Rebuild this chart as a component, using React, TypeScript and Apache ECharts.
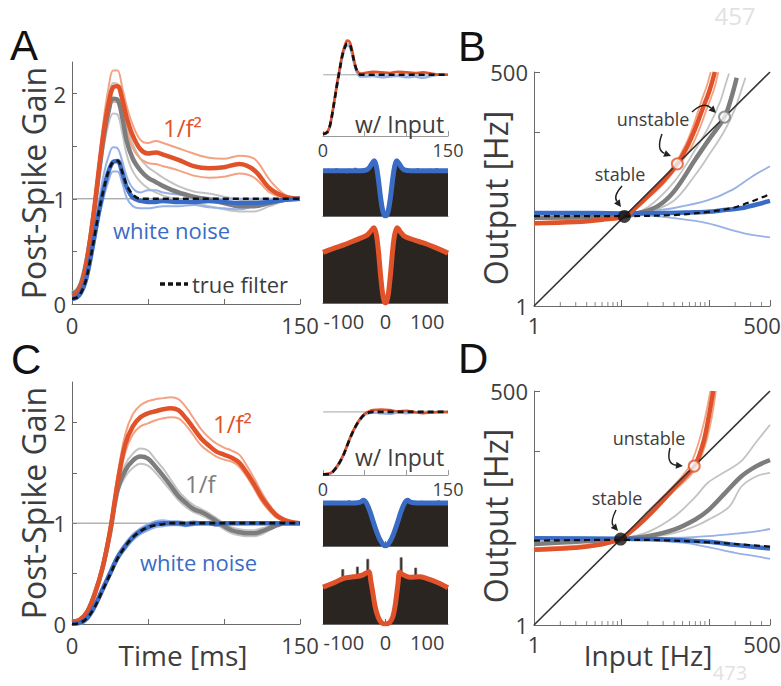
import React, { useEffect, useRef } from "react";
import * as echarts from "echarts";

const FONT = '"Open Sans", "DejaVu Sans", sans-serif';
const LETTER_FONT = '"Liberation Sans", Arial, sans-serif';
const TXT = "#3d3d3d";
const AXIS = "#6a6a6a";
const ORANGE = "#e0532a";
const ORANGE_L = "#f3a283";
const GRAY = "#7d7d7d";
const GRAY_L = "#c3c3c3";
const BLUE = "#3a6cc6";
const BLUE_L = "#98b1e6";
const BAR = "#2a2521";

// ---------- Panel A: post-spike gain, no input ----------
const timeA = [0, 3, 6, 9, 12, 15, 18, 21, 24, 27, 30, 33, 36, 40, 45, 50, 55, 60, 70, 80, 90, 100, 110, 120, 130, 140, 150];
const aOrange = [0.08, 0.1, 0.18, 0.35, 0.62, 0.95, 1.32, 1.65, 1.9, 2.06, 2.07, 1.95, 1.77, 1.6, 1.47, 1.43, 1.44, 1.42, 1.37, 1.31, 1.29, 1.3, 1.33, 1.27, 1.1, 1.02, 1.0];
const aOrangeHi = [0.1, 0.12, 0.2, 0.38, 0.66, 1.0, 1.4, 1.77, 2.05, 2.22, 2.22, 2.06, 1.88, 1.7, 1.56, 1.53, 1.55, 1.53, 1.48, 1.43, 1.39, 1.38, 1.41, 1.38, 1.18, 1.04, 1.0];
const aOrangeLo = [0.07, 0.09, 0.17, 0.33, 0.58, 0.9, 1.25, 1.55, 1.78, 1.92, 1.92, 1.82, 1.65, 1.48, 1.38, 1.34, 1.33, 1.31, 1.27, 1.22, 1.2, 1.21, 1.24, 1.2, 1.06, 1.01, 1.0];
const aGray = [0.1, 0.12, 0.2, 0.37, 0.62, 0.93, 1.28, 1.6, 1.83, 1.95, 1.94, 1.78, 1.55, 1.38, 1.27, 1.2, 1.16, 1.12, 1.06, 1.02, 0.99, 0.96, 0.93, 0.93, 0.96, 0.99, 1.0];
const aGrayHi = [0.12, 0.14, 0.22, 0.4, 0.66, 0.98, 1.35, 1.7, 1.95, 2.1, 2.09, 1.92, 1.7, 1.52, 1.38, 1.3, 1.25, 1.2, 1.12, 1.07, 1.05, 1.02, 0.99, 0.98, 0.99, 1.0, 1.0];
const aGrayLo = [0.08, 0.1, 0.18, 0.34, 0.58, 0.88, 1.2, 1.5, 1.71, 1.81, 1.8, 1.63, 1.42, 1.26, 1.16, 1.1, 1.06, 1.03, 0.99, 0.96, 0.93, 0.9, 0.88, 0.88, 0.93, 0.98, 1.0];
const aBlue = [0.05, 0.06, 0.11, 0.22, 0.42, 0.66, 0.9, 1.1, 1.26, 1.35, 1.36, 1.25, 1.11, 1.01, 0.98, 0.97, 0.97, 0.98, 0.97, 0.97, 0.98, 0.97, 0.96, 0.96, 0.97, 0.99, 1.0];
const aBlueHi = [0.06, 0.07, 0.13, 0.26, 0.48, 0.74, 1.0, 1.24, 1.4, 1.49, 1.48, 1.36, 1.21, 1.1, 1.06, 1.08, 1.08, 1.06, 1.04, 1.02, 1.01, 1.0, 1.0, 1.0, 1.0, 1.0, 1.0];
const aBlueLo = [0.04, 0.05, 0.1, 0.2, 0.38, 0.6, 0.83, 1.02, 1.17, 1.26, 1.26, 1.15, 1.01, 0.93, 0.91, 0.91, 0.92, 0.93, 0.93, 0.94, 0.92, 0.91, 0.9, 0.93, 0.96, 0.99, 1.0];
const aTrue = [0.05, 0.06, 0.11, 0.22, 0.42, 0.66, 0.9, 1.1, 1.26, 1.35, 1.36, 1.26, 1.13, 1.04, 1.0, 1.0, 1.0, 1.0, 1.0, 1.0, 1.0, 1.0, 1.0, 1.0, 1.0, 1.0, 1.0];

// ---------- Panel C ----------
const timeC = [0, 5, 10, 15, 20, 25, 30, 35, 40, 45, 50, 55, 60, 65, 70, 75, 80, 85, 90, 95, 100, 105, 110, 115, 120, 125, 130, 135, 140, 145, 150];
const cOrange = [0.02, 0.04, 0.12, 0.3, 0.55, 0.92, 1.4, 1.78, 1.96, 2.05, 2.09, 2.11, 2.13, 2.14, 2.12, 2.04, 1.94, 1.84, 1.77, 1.71, 1.68, 1.65, 1.6, 1.5, 1.38, 1.25, 1.15, 1.07, 1.03, 1.01, 1.0];
const cOrangeHi = [0.03, 0.05, 0.14, 0.33, 0.6, 0.98, 1.48, 1.88, 2.08, 2.17, 2.21, 2.23, 2.24, 2.25, 2.23, 2.15, 2.04, 1.93, 1.85, 1.79, 1.75, 1.72, 1.68, 1.57, 1.44, 1.3, 1.18, 1.09, 1.04, 1.01, 1.0];
const cOrangeLo = [0.02, 0.03, 0.11, 0.28, 0.52, 0.87, 1.33, 1.7, 1.88, 1.96, 1.99, 2.02, 2.04, 2.05, 2.04, 1.97, 1.87, 1.77, 1.71, 1.66, 1.63, 1.61, 1.56, 1.46, 1.34, 1.21, 1.12, 1.05, 1.02, 1.0, 1.0];
const cGray = [0.02, 0.04, 0.12, 0.3, 0.55, 0.9, 1.33, 1.52, 1.62, 1.66, 1.64, 1.56, 1.47, 1.37, 1.27, 1.2, 1.14, 1.11, 1.07, 1.02, 0.97, 0.93, 0.91, 0.9, 0.9, 0.92, 0.95, 0.98, 1.0, 1.0, 1.0];
const cGrayHi = [0.02, 0.04, 0.12, 0.3, 0.56, 0.92, 1.36, 1.58, 1.69, 1.74, 1.72, 1.63, 1.54, 1.43, 1.32, 1.24, 1.18, 1.14, 1.1, 1.05, 1.0, 0.96, 0.94, 0.93, 0.93, 0.95, 0.97, 0.99, 1.0, 1.0, 1.0];
const cGrayLo = [0.02, 0.04, 0.12, 0.29, 0.54, 0.88, 1.29, 1.46, 1.55, 1.59, 1.57, 1.5, 1.41, 1.32, 1.23, 1.16, 1.11, 1.08, 1.04, 0.99, 0.94, 0.9, 0.88, 0.87, 0.87, 0.89, 0.93, 0.97, 1.0, 1.0, 1.0];
const cBlue = [0.0, 0.01, 0.06, 0.18, 0.34, 0.5, 0.66, 0.77, 0.86, 0.92, 0.96, 0.99, 1.0, 1.0, 1.0, 0.99, 1.0, 1.0, 1.0, 0.99, 1.0, 1.0, 1.0, 1.0, 1.0, 1.0, 1.0, 1.0, 1.0, 1.0, 1.0];
const cBlueHi = [0.01, 0.02, 0.08, 0.2, 0.37, 0.53, 0.69, 0.8, 0.89, 0.95, 0.99, 1.02, 1.03, 1.02, 1.02, 1.01, 1.02, 1.01, 1.01, 1.01, 1.01, 1.01, 1.01, 1.0, 1.0, 1.0, 1.0, 1.0, 1.0, 1.0, 1.0];
const cBlueLo = [0.0, 0.0, 0.04, 0.15, 0.31, 0.47, 0.63, 0.74, 0.83, 0.89, 0.93, 0.96, 0.97, 0.98, 0.98, 0.97, 0.98, 0.99, 0.99, 0.98, 0.99, 0.99, 0.99, 0.99, 1.0, 1.0, 1.0, 1.0, 1.0, 1.0, 1.0];
const cTrue = [0.0, 0.01, 0.06, 0.17, 0.33, 0.49, 0.65, 0.77, 0.86, 0.92, 0.96, 0.98, 0.99, 1.0, 1.0, 1.0, 1.0, 1.0, 1.0, 1.0, 1.0, 1.0, 1.0, 1.0, 1.0, 1.0, 1.0, 1.0, 1.0, 1.0, 1.0];

// ---------- small "w/ Input" plots ----------
const timeS1 = [0, 5, 8, 11, 14, 17, 20, 23, 26, 29, 32, 35, 38, 41, 45, 50, 60, 70, 80, 90, 100, 110, 120, 130, 140, 150];
const s1True = [0.03, 0.06, 0.15, 0.35, 0.6, 0.85, 1.08, 1.3, 1.44, 1.51, 1.5, 1.36, 1.18, 1.06, 1.0, 1.0, 1.0, 1.0, 1.0, 1.0, 1.0, 1.0, 1.0, 1.0, 1.0, 1.0];
const s1Orange = [0.04, 0.07, 0.16, 0.37, 0.62, 0.88, 1.1, 1.33, 1.47, 1.56, 1.54, 1.4, 1.2, 1.07, 1.02, 1.03, 1.05, 1.04, 1.03, 1.05, 1.04, 1.03, 1.04, 1.02, 1.0, 1.0];
const s1Blue = [0.03, 0.05, 0.14, 0.33, 0.58, 0.83, 1.06, 1.28, 1.42, 1.48, 1.46, 1.33, 1.15, 1.03, 0.97, 0.97, 0.98, 0.96, 0.97, 0.98, 0.96, 0.97, 0.95, 0.98, 1.0, 1.0];
const s1Gray = [0.03, 0.06, 0.15, 0.35, 0.6, 0.86, 1.09, 1.31, 1.45, 1.53, 1.5, 1.35, 1.17, 1.04, 0.99, 0.98, 1.01, 1.02, 0.99, 1.0, 1.01, 1.0, 0.99, 1.0, 1.0, 1.0];

const timeS2 = [0, 5, 10, 15, 20, 25, 30, 35, 40, 45, 50, 55, 60, 70, 80, 90, 100, 110, 120, 130, 140, 150];
const s2True = [0.01, 0.01, 0.03, 0.1, 0.2, 0.33, 0.5, 0.66, 0.79, 0.89, 0.96, 0.99, 1.0, 1.0, 1.0, 1.0, 1.0, 1.0, 1.0, 1.0, 1.0, 1.0];
const s2Orange = [0.01, 0.02, 0.04, 0.11, 0.21, 0.34, 0.51, 0.67, 0.8, 0.9, 0.97, 1.01, 1.03, 1.04, 1.03, 1.01, 1.02, 1.0, 0.98, 0.99, 1.0, 1.0];
const s2Blue = [0.01, 0.01, 0.03, 0.09, 0.19, 0.32, 0.49, 0.65, 0.78, 0.88, 0.95, 0.98, 0.99, 0.98, 0.97, 0.99, 0.98, 0.99, 1.0, 0.99, 1.0, 1.0];
const s2Gray = [0.01, 0.01, 0.03, 0.1, 0.2, 0.33, 0.5, 0.66, 0.79, 0.89, 0.96, 0.99, 1.0, 0.99, 1.01, 1.0, 1.0, 0.99, 1.0, 1.0, 1.0, 1.0];

// ---------- autocorrelation histograms (bins, ms) ----------
const histBins = [-150, -147.5, -142.5, -137.5, -132.5, -127.5, -122.5, -117.5, -112.5, -107.5, -102.5, -97.5, -92.5, -87.5, -82.5, -77.5, -72.5, -67.5, -62.5, -57.5, -52.5, -47.5, -42.5, -37.5, -32.5, -27.5, -22.5, -17.5, -12.5, -7.5, -2.5, 2.5, 7.5, 12.5, 17.5, 22.5, 27.5, 32.5, 37.5, 42.5, 47.5, 52.5, 57.5, 62.5, 67.5, 72.5, 77.5, 82.5, 87.5, 92.5, 97.5, 102.5, 107.5, 112.5, 117.5, 122.5, 127.5, 132.5, 137.5, 142.5, 147.5, 150];
const h1Bars = [1.02, 1.02, 0.97, 1.04, 0.99, 1.01, 0.96, 1.05, 1.0, 0.98, 1.03, 1.0, 0.95, 1.04, 1.01, 0.98, 1.06, 0.99, 1.02, 0.97, 1.03, 1.01, 1.05, 1.09, 1.17, 1.22, 1.12, 0.8, 0.42, 0.13, 0.02, 0.03, 0.14, 0.43, 0.79, 1.13, 1.21, 1.16, 1.08, 1.03, 0.99, 1.04, 0.98, 1.02, 1.0, 0.96, 1.05, 1.01, 0.98, 1.03, 1.0, 0.97, 1.04, 1.0, 0.98, 1.05, 0.99, 1.02, 1.0, 0.97, 1.03, 1.03];
const h2Bars = [0.75, 0.75, 0.73, 0.78, 0.77, 0.8, 0.79, 0.83, 0.81, 0.85, 0.86, 0.84, 0.88, 0.9, 0.87, 0.91, 0.93, 0.9, 0.94, 0.96, 0.95, 0.98, 1.0, 1.04, 1.08, 1.1, 1.02, 0.76, 0.42, 0.14, 0.02, 0.02, 0.15, 0.44, 0.77, 1.03, 1.1, 1.07, 1.02, 0.99, 0.97, 0.96, 0.94, 0.95, 0.92, 0.93, 0.9, 0.91, 0.88, 0.89, 0.86, 0.87, 0.84, 0.83, 0.84, 0.8, 0.79, 0.78, 0.76, 0.74, 0.73, 0.73];
const h3Bars = [1.01, 1.01, 0.97, 1.03, 0.99, 1.04, 0.98, 1.0, 1.02, 0.96, 1.03, 1.0, 0.98, 1.05, 0.99, 1.01, 0.97, 1.03, 1.02, 1.05, 1.07, 1.02, 0.92, 0.8, 0.66, 0.52, 0.38, 0.25, 0.14, 0.06, 0.01, 0.01, 0.06, 0.15, 0.26, 0.39, 0.53, 0.67, 0.81, 0.93, 1.03, 1.06, 1.04, 1.0, 0.98, 1.03, 1.01, 0.97, 1.04, 0.99, 1.02, 1.0, 0.96, 1.03, 1.01, 0.98, 1.05, 1.0, 0.99, 1.02, 0.98, 0.98];
const h4Bars = [0.72, 0.72, 0.7, 0.75, 0.77, 0.79, 0.82, 0.8, 0.84, 0.86, 1.05, 0.88, 0.87, 0.9, 0.89, 0.92, 0.9, 1.1, 0.91, 0.93, 0.94, 0.97, 1.25, 1.0, 0.72, 0.47, 0.25, 0.12, 0.04, 0.01, 0.0, 0.0, 0.02, 0.06, 0.16, 0.35, 0.66, 0.97, 1.28, 0.95, 0.93, 0.92, 0.9, 0.91, 0.89, 1.08, 0.9, 0.91, 0.89, 0.88, 0.9, 0.87, 0.85, 0.84, 0.82, 0.8, 0.81, 0.77, 0.76, 0.73, 0.7, 0.7];
const h1Curve = [[-150, 1.0], [-100, 1.0], [-60, 1.0], [-45, 1.02], [-38, 1.08], [-32, 1.17], [-27, 1.22], [-22, 1.1], [-17, 0.8], [-12, 0.42], [-7, 0.13], [-3, 0.02], [0, 0], [3, 0.02], [7, 0.13], [12, 0.42], [17, 0.8], [22, 1.1], [27, 1.22], [32, 1.17], [38, 1.08], [45, 1.02], [60, 1.0], [100, 1.0], [150, 1.0]];
const h2Curve = [[-150, 0.74], [-120, 0.81], [-100, 0.85], [-80, 0.9], [-60, 0.95], [-45, 0.99], [-37, 1.04], [-28, 1.1], [-22, 1.0], [-17, 0.76], [-12, 0.42], [-7, 0.14], [-3, 0.02], [0, 0], [3, 0.02], [7, 0.14], [12, 0.42], [17, 0.76], [22, 1.0], [28, 1.1], [37, 1.03], [45, 0.98], [60, 0.94], [80, 0.9], [100, 0.86], [120, 0.81], [150, 0.73]];
const h3Curve = [[-150, 1.0], [-100, 1.0], [-75, 1.0], [-60, 1.02], [-53, 1.06], [-46, 1.0], [-38, 0.82], [-30, 0.58], [-22, 0.35], [-14, 0.16], [-6, 0.04], [0, 0], [6, 0.04], [14, 0.16], [22, 0.35], [30, 0.58], [38, 0.82], [46, 1.0], [53, 1.06], [60, 1.02], [75, 1.0], [100, 1.0], [150, 1.0]];
const h4Curve = [[-150, 0.71], [-125, 0.79], [-100, 0.88], [-77, 0.91], [-56, 0.94], [-45, 0.99], [-40, 1.01], [-35, 0.82], [-30, 0.58], [-25, 0.34], [-18, 0.14], [-10, 0.03], [0, 0], [10, 0.03], [18, 0.15], [24, 0.4], [30, 0.78], [34, 1.0], [40, 0.96], [58, 0.9], [82, 0.91], [98, 0.88], [122, 0.81], [150, 0.7]];

// ---------- Panel B: input/output (log-log) ----------
const identityLine = [[1, 1], [500, 500]];
const bBlue = [[1, 11.8], [5, 11.8], [10, 11.7], [30, 11.8], [60, 12.0], [98, 12.2], [150, 12.8], [238, 13.5], [350, 14.8], [500, 16.3]];
const bBlueHi = [[1, 12.2], [10, 12.1], [20, 12.4], [40, 13.5], [98, 16.6], [182, 21.7], [310, 31], [500, 41]];
const bBlueLo = [[1, 11.5], [10, 11.3], [20, 11], [40, 10.3], [98, 9], [182, 7.5], [310, 6.6], [500, 6.2]];
const bTrue = [[1, 10.9], [10, 10.9], [40, 11.2], [98, 12.2], [180, 13.4], [280, 15.5], [400, 17.8], [500, 19.6]];
const bOrange = [[1, 9.0], [3, 9.3], [6, 9.9], [10.8, 10.8], [15, 14], [20, 18.5], [30, 27.5], [43.6, 43.6], [55, 65], [70, 112], [85, 190], [100, 290], [117, 500]];
const bOrangeHi = [[1, 9.3], [6, 10.1], [10.8, 11.0], [20, 19.8], [30, 30], [40, 42], [55, 75], [68, 130], [82, 230], [95, 350], [105, 500]];
const bOrangeLo = [[1, 8.7], [6, 9.7], [10.8, 10.6], [20, 17.5], [30, 25.5], [45, 42], [60, 62], [75, 100], [95, 190], [115, 320], [128, 500]];
const bGray = [[1, 10.4], [5, 10.6], [10.8, 10.8], [15, 11.6], [26, 14.2], [40, 21], [69, 48], [100, 83], [151, 151], [180, 250], [208, 430]];
const bGrayHi = [[1, 10.6], [10.8, 11], [20, 13.8], [40, 27], [69, 62], [100, 118], [135, 230], [160, 400], [170, 480]];
const bGrayLo = [[1, 10.2], [10.8, 10.7], [20, 12], [40, 16.5], [69, 32], [100, 55], [151, 105], [200, 190], [240, 330], [262, 430]];
const bStable = [[10.8, 10.8]];
const bUnstableOrange = [[43.6, 43.6]];
const bUnstableGray = [[151, 151]];

// ---------- Panel D ----------
const dBlue = [[1, 10.0], [10, 9.9], [30, 9.7], [98, 9.1], [200, 8.4], [500, 7.6]];
const dTrue = [[1, 9.4], [10, 9.6], [30, 9.5], [98, 9.0], [200, 8.6], [500, 8.0]];
const dBlueHi = [[1, 10.2], [10, 10], [50, 10.2], [98, 10.6], [200, 11.3], [350, 12], [500, 12.8]];
const dBlueLo = [[1, 9.9], [10, 9.8], [50, 8.9], [98, 7.9], [200, 6.8], [350, 6.2], [500, 5.8]];
const dOrange = [[1, 7.4], [3, 7.8], [5, 8.3], [8, 9.2], [9.8, 9.8], [16, 14.5], [25, 22.5], [40, 38], [68, 68], [85, 120], [98, 230], [112, 500]];
const dOrangeHi = [[1, 7.7], [5, 8.6], [9.8, 10.1], [20, 20.5], [40, 41], [60, 68], [75, 120], [90, 240], [104, 500]];
const dOrangeLo = [[1, 7.1], [5, 8.0], [9.8, 9.6], [20, 17.5], [40, 35], [68, 60], [90, 115], [108, 250], [120, 500]];
const dGray = [[1, 8.6], [9.8, 9.8], [20, 10.6], [40, 12.6], [70, 16.5], [98, 21], [152, 33], [236, 52], [350, 68], [500, 80]];
const dGrayHi = [[9.8, 9.9], [20, 11.8], [40, 17.7], [70, 30], [98, 44], [160, 60], [236, 78], [350, 130], [500, 204]];
const dGrayLo = [[9.8, 9.8], [20, 10.3], [40, 11.5], [70, 13.8], [98, 16.3], [170, 23], [236, 39.6], [350, 52], [500, 57]];
const dStable = [[9.8, 9.8]];
const dUnstable = [[68, 68]];

const logMinorTicks = [2, 3, 4, 5, 6, 7, 8, 9, 20, 30, 40, 50, 60, 70, 80, 90, 200, 300, 400];
const gainTicks = [0, 0.5, 1, 1.5, 2];
const gainLabels = [0, 1, 2];
const timeTicks = [0, 50, 100, 150];
const timeLabels = [0, 150];
const lagTicks = [-100, 0, 100];

function buildOption() {
  const grid: any[] = [];
  const xAxis: any[] = [];
  const yAxis: any[] = [];
  const series: any[] = [];
  const graphic: any[] = [];

  const addGrid = (left: number, top: number, width: number, height: number) => {
    grid.push({ left, top, width, height, containLabel: false, outerBoundsMode: "none" });
    return grid.length - 1;
  };
  const addX = (o: any) => { xAxis.push({ position: "bottom", ...o }); return xAxis.length - 1; };
  const addY = (o: any) => { yAxis.push({ position: "left", ...o }); return yAxis.length - 1; };

  const valAxis = (gi: number, min: number, max: number, ticks: number[] | null, labels: number[] | null, fontSize: number, margin: number, color = AXIS) => ({
    gridIndex: gi, type: "value", min, max,
    axisLine: { show: true, onZero: false, lineStyle: { color, width: 1 } },
    axisTick: ticks ? { show: true, inside: true, length: 5, customValues: ticks, lineStyle: { color } } : { show: false },
    axisLabel: labels ? { show: true, customValues: labels, fontSize, margin, color: TXT, fontFamily: FONT } : { show: false },
    splitLine: { show: false },
  });
  const hidden = (gi: number, min: number, max: number) => ({ gridIndex: gi, type: "value", min, max, show: false });
  const logAxis = (gi: number, margin: number, isX: boolean) => ({
    gridIndex: gi, type: "log", logBase: 10, min: 1, max: 500,
    axisLine: { show: true, onZero: false, lineStyle: { color: AXIS, width: 1 } },
    axisTick: { show: true, inside: true, length: 6, lineStyle: { color: AXIS } },
    axisLabel: {
      fontSize: 22, color: TXT, fontFamily: FONT, margin, showMinLabel: true, showMaxLabel: true,
      formatter: (v: number) => {
        const r = Math.round(v);
        if (r === 500) return isX ? "{r|500}" : "500";
        return r === 1 ? "1" : "";
      },
      rich: { r: { fontSize: 22, color: TXT, fontFamily: FONT, padding: [0, 16, 0, 0] } },
    },
    splitLine: { show: false }, minorTick: { show: false },
  });

  const line = (xi: number, yi: number, data: any[], color: string, width: number, z: number, dashed = false) => {
    series.push({
      type: "line", xAxisIndex: xi, yAxisIndex: yi, data, smooth: 0.35, symbol: "none", silent: true, z,
      lineStyle: { color, width, type: dashed ? [6, 4] : "solid", cap: "butt" },
    });
  };
  const zip = (t: number[], v: number[]) => t.map((x, i) => [x, v[i]]);

  const gainPanel = (top: number, height: number, ymax: number, t: number[], sets: any) => {
    const gi = addGrid(72, top, 228, height);
    const xi = addX(valAxis(gi, 0, 150, timeTicks, timeLabels, 22, 10));
    const yi = addY(valAxis(gi, 0, ymax, gainTicks, gainLabels, 22, 6));
    line(xi, yi, [[0, 1], [150, 1]], "#8a8a8a", 1, 1);
    for (const [vals, col] of sets.thin) line(xi, yi, zip(t, vals), col, 2, 2);
    for (const [vals, col] of sets.thick) line(xi, yi, zip(t, vals), col, 4.5, 3);
    line(xi, yi, zip(t, sets.truth), "#111", 2.6, 4, true);
  };

  const smallPanel = (top: number, height: number, ymax: number, t: number[], tr: number[], o: number[], b: number[], g: number[]) => {
    const gi = addGrid(323, top, 125, height);
    const xi = addX(valAxis(gi, 0, 150, timeTicks, timeLabels, 18, 5, "#9a9a9a"));
    const yi = addY(hidden(gi, 0, ymax));
    line(xi, yi, [[0, 1], [150, 1]], "#a0a0a0", 1, 1);
    line(xi, yi, zip(t, g), GRAY_L, 2.5, 2);
    line(xi, yi, zip(t, b), BLUE_L, 2.5, 2);
    line(xi, yi, zip(t, o), ORANGE, 2.5, 3);
    line(xi, yi, zip(t, tr), "#111", 2.6, 4, true);
  };

  const histPanel = (top: number, height: number, ymax: number, bars: number[], curve: number[][], color: string, labels: boolean) => {
    const gi = addGrid(323, top, 125, height);
    const xv = addX(valAxis(gi, -150, 150, lagTicks, labels ? lagTicks : null, 20, 8));
    const yi = addY(hidden(gi, 0, ymax));
    series.push({
      type: "line", xAxisIndex: xv, yAxisIndex: yi, data: zip(histBins, bars), step: "middle", symbol: "none", silent: true,
      lineStyle: { color: "#6e6a66", width: 0.8 }, areaStyle: { color: BAR, opacity: 1 }, z: 1,
    });
    line(xv, yi, curve, color, 5, 3);
  };

  const ioPanel = (top: number, sets: any) => {
    const gi = addGrid(534, top, 236, 234);
    const xi = addX(logAxis(gi, 8, true));
    const yi = addY(logAxis(gi, 6, false));
    series.push({
      type: "scatter", xAxisIndex: xi, yAxisIndex: yi, data: logMinorTicks.map((v) => [v, 1]), symbol: "rect",
      symbolSize: [1, 4], symbolOffset: [0, -2], itemStyle: { color: AXIS }, silent: true, clip: false, z: 1,
    });
    line(xi, yi, identityLine, "#333", 1.6, 5);
    for (const [d, col] of sets.thin) line(xi, yi, d, col, 1.8, 2);
    for (const [d, col] of sets.thick) line(xi, yi, d, col, 4.5, 3);
    line(xi, yi, sets.truth, "#111", 2.2, 4, true);
    series.push({ type: "scatter", xAxisIndex: xi, yAxisIndex: yi, data: sets.stable, symbol: "circle", symbolSize: 13, itemStyle: { color: "#111" }, silent: true, z: 8 });
    for (const [d, col] of sets.unstable) {
      series.push({ type: "scatter", xAxisIndex: xi, yAxisIndex: yi, data: d, symbol: "circle", symbolSize: 11, itemStyle: { color: "#fff", borderColor: col, borderWidth: 2 }, silent: true, z: 8 });
    }
  };

  // Panel A + inset column + Panel B
  gainPanel(62, 242, 2.3, timeA, {
    thin: [[aGrayHi, GRAY_L], [aGrayLo, GRAY_L], [aBlueHi, BLUE_L], [aBlueLo, BLUE_L], [aOrangeHi, ORANGE_L], [aOrangeLo, ORANGE_L]],
    thick: [[aGray, GRAY], [aOrange, ORANGE], [aBlue, BLUE]],
    truth: aTrue,
  });
  smallPanel(35, 101, 1.65, timeS1, s1True, s1Orange, s1Blue, s1Gray);
  histPanel(155, 61, 1.35, h1Bars, h1Curve, BLUE, false);
  histPanel(221, 82, 1.2, h2Bars, h2Curve, ORANGE, true);
  ioPanel(72, {
    thin: [[bGrayHi, GRAY_L], [bGrayLo, GRAY_L], [bBlueHi, BLUE_L], [bBlueLo, BLUE_L], [bOrangeHi, ORANGE_L], [bOrangeLo, ORANGE_L]],
    thick: [[bGray, GRAY], [bBlue, BLUE], [bOrange, ORANGE]],
    truth: bTrue,
    stable: bStable,
    unstable: [[bUnstableOrange, ORANGE], [bUnstableGray, GRAY]],
  });

  // Panel C + inset column + Panel D
  gainPanel(382, 242, 2.4, timeC, {
    thin: [[cGrayHi, GRAY_L], [cGrayLo, GRAY_L], [cBlueHi, BLUE_L], [cBlueLo, BLUE_L], [cOrangeHi, ORANGE_L], [cOrangeLo, ORANGE_L]],
    thick: [[cGray, GRAY], [cOrange, ORANGE], [cBlue, BLUE]],
    truth: cTrue,
  });
  smallPanel(393, 82, 1.3, timeS2, s2True, s2Orange, s2Blue, s2Gray);
  histPanel(490, 56, 1.3, h3Bars, h3Curve, BLUE, false);
  histPanel(554, 70, 1.35, h4Bars, h4Curve, ORANGE, true);
  ioPanel(391, {
    thin: [[dGrayHi, GRAY_L], [dGrayLo, GRAY_L], [dBlueHi, BLUE_L], [dBlueLo, BLUE_L], [dOrangeHi, ORANGE_L], [dOrangeLo, ORANGE_L]],
    thick: [[dGray, GRAY], [dBlue, BLUE], [dOrange, ORANGE]],
    truth: dTrue,
    stable: dStable,
    unstable: [[dUnstable, ORANGE]],
  });

  // ---- texts ----
  const text = (x: number, y: number, t: string, size: number, fill: string, opts: any = {}) => graphic.push({
    type: "text", x, y, z: 100, rotation: opts.rotation || 0, silent: true,
    style: { text: t, fontSize: size, fontFamily: opts.family || FONT, fill, align: opts.align || "left", verticalAlign: "middle" },
  });
  text(10, 45, "A", 42, "#111", { family: LETTER_FONT });
  text(458, 46, "B", 42, "#111", { family: LETTER_FONT });
  text(11, 359, "C", 42, "#111", { family: LETTER_FONT });
  text(458, 358, "D", 42, "#111", { family: LETTER_FONT });
  text(33, 183, "Post-Spike Gain", 32, TXT, { rotation: Math.PI / 2, align: "center" });
  text(33, 503, "Post-Spike Gain", 32, TXT, { rotation: Math.PI / 2, align: "center" });
  text(495, 198, "Output [Hz]", 32, TXT, { rotation: Math.PI / 2, align: "center" });
  text(495, 516, "Output [Hz]", 32, TXT, { rotation: Math.PI / 2, align: "center" });
  text(183, 655, "Time [ms]", 28, TXT, { align: "center" });
  text(648, 655, "Input [Hz]", 28, TXT, { align: "center" });
  text(163, 127, "1/f²", 24, ORANGE);
  text(113, 230, "white noise", 22, BLUE);
  text(192, 284, "true filter", 22, TXT);
  graphic.push({ type: "line", z: 100, silent: true, shape: { x1: 160, y1: 284, x2: 188, y2: 284 }, style: { stroke: "#111", lineWidth: 3.5, lineDash: [5, 3] } });
  text(213, 423, "1/f²", 24, ORANGE);
  text(185, 483, "1/f", 24, GRAY);
  text(140, 562, "white noise", 22, BLUE);
  text(355, 124, "w/ Input", 23, TXT);
  text(355, 457, "w/ Input", 23, TXT);
  text(620, 174, "stable", 18, TXT, { align: "center" });
  text(653, 119, "unstable", 18, TXT, { align: "center" });
  text(617, 498, "stable", 18, TXT, { align: "center" });
  text(649, 438, "unstable", 18, TXT, { align: "center" });
  text(735, 15, "457", 24, "#e2e2e2", { align: "center" });
  text(730, 672, "473", 20, "#e2e2e2", { align: "center" });

  const arrow = (x1: number, y1: number, cx: number, cy: number, x2: number, y2: number) => {
    const a = Math.atan2(y2 - cy, x2 - cx);
    const L = 7, W = 3.5;
    const bx = x2 - L * Math.cos(a), by = y2 - L * Math.sin(a);
    graphic.push({ type: "bezierCurve", z: 100, silent: true, shape: { x1, y1, x2: bx, y2: by, cpx1: cx, cpy1: cy }, style: { stroke: "#222", lineWidth: 1.5, fill: "none" } });
    graphic.push({ type: "polygon", z: 100, silent: true, shape: { points: [[x2, y2], [bx + W * Math.sin(a), by - W * Math.cos(a)], [bx - W * Math.sin(a), by + W * Math.cos(a)]] }, style: { fill: "#222" } });
  };
  arrow(622, 186, 613, 196, 621, 207);
  arrow(662, 134, 656, 150, 671, 156);
  arrow(692, 112, 704, 101, 716, 113);
  arrow(616, 510, 610, 522, 618, 531);
  arrow(670, 448, 666, 464, 683, 466);

  return { animation: false, backgroundColor: "#ffffff", grid, xAxis, yAxis, series, graphic };
}

export default function App() {
  const ref = useRef<HTMLDivElement>(null);
  useEffect(() => {
    const chart = echarts.init(ref.current as HTMLDivElement, null, { renderer: "svg" });
    chart.setOption(buildOption() as any);
    return () => chart.dispose();
  }, []);
  return <div ref={ref} style={{ position: "absolute", left: 0, top: 0, width: 781, height: 686, background: "#fff" }} />;
}
